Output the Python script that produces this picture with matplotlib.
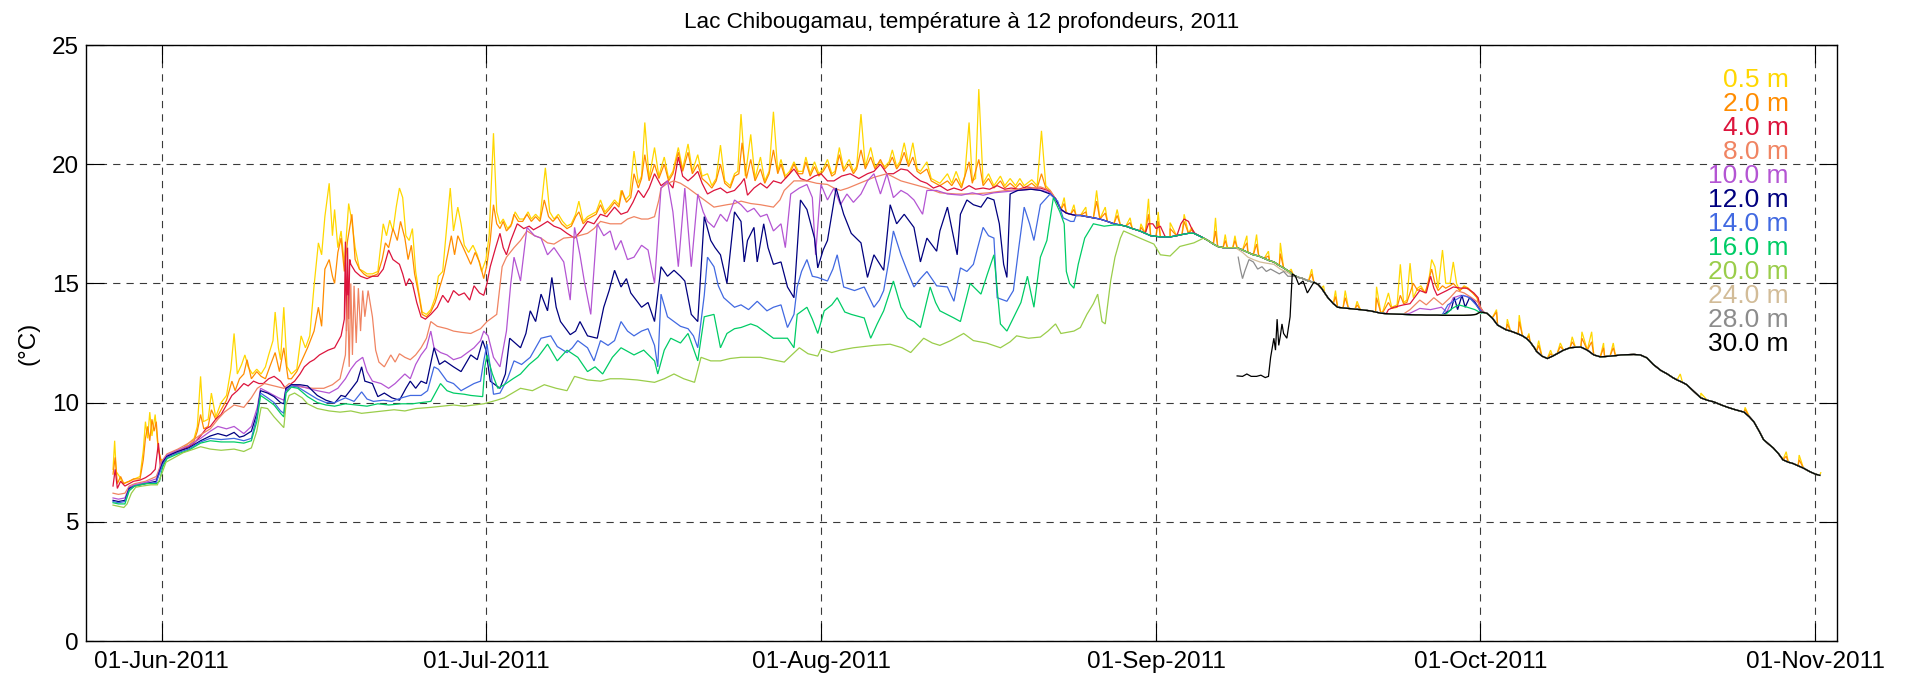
import numpy as np
import matplotlib
matplotlib.use("Agg")
import matplotlib.pyplot as plt
import matplotlib.dates as mdates
from datetime import datetime

plt.rcParams['font.family'] = ['Liberation Sans', 'DejaVu Sans']

# ---------------------------------------------------------------------------
# Mooring records, Lac Chibougamau 2011.
# Each record is a list of (day since 1 June 2011, temperature degC).
# ---------------------------------------------------------------------------
depth_labels = ["0.5 m", "2.0 m", "4.0 m", "8.0 m", "10.0 m", "12.0 m",
                "14.0 m", "16.0 m", "20.0 m", "24.0 m", "28.0 m", "30.0 m"]
depth_colors = ["#FFD700", "#FF8C00", "#DC143C", "#F08462", "#B455D3", "#00007F",
                "#4169E1", "#00CC66", "#9ACD4A", "#D2BC98", "#8C8C8C", "#000000"]

# whole-column record once the lake is mixed (autumn overturn)
mixed = [(82.2,18.85),(82.7,18.55),(83.2,18.1),(83.7,17.95),(84.1,17.9),(84.6,17.85),(85.0,17.85),
         (85.6,17.8),(86.2,17.75),(86.8,17.7),(87.5,17.6),(88.1,17.5),(88.7,17.45),(89.2,17.4),
         (89.8,17.3),(90.5,17.2),(91.0,17.1),(91.5,17.0),(92.0,16.97),(92.4,16.95),(92.9,16.95),
         (93.3,16.95),(93.9,17.0),(94.4,17.05),(95.0,17.1),(95.5,17.1),(96.2,16.95),(96.8,16.8),
         (97.3,16.65),(97.7,16.55),(98.2,16.5),(98.6,16.5),(99.1,16.5),(99.5,16.5),(100.0,16.4),
         (100.5,16.3),(101.0,16.2),(101.5,16.15),(102.0,16.05),(102.5,15.95),(102.9,15.9),
         (103.4,15.75),(103.8,15.65),(104.3,15.5),(104.7,15.35),(105.2,15.25),(105.6,15.2),
         (106.1,15.1),(106.6,15.05),(107.0,14.95),(107.3,14.8),(107.6,14.6),(107.9,14.4),
         (108.4,14.15),(108.8,14.0),(109.3,13.97),(109.8,13.95),(110.4,13.92),(110.9,13.9),
         (111.4,13.87),(111.8,13.85),(112.3,13.8),(112.8,13.75),(113.3,13.73),(113.7,13.72),
         (114.3,13.71),(114.9,13.7),(115.5,13.69),(116.0,13.68),(116.5,13.68),(117.0,13.67),
         (117.5,13.67),(118.0,13.67),(118.5,13.66),(119.0,13.66),(119.5,13.66),(120.0,13.66),
         (120.5,13.66),(121.1,13.67),(121.6,13.7),(122.0,13.8),(122.3,13.78),(122.6,13.75),
         (123.1,13.55),(123.6,13.25),(124.0,13.15),(124.4,13.05),(124.8,13.0),(125.1,12.95),
         (125.5,12.88),(125.9,12.8),(126.3,12.68),(126.6,12.55),(127.0,12.3),(127.2,12.15),
         (127.7,11.95),(128.2,11.85),(128.7,11.95),(129.1,12.05),(129.7,12.2),(130.3,12.3),
         (130.8,12.32),(131.3,12.33),(131.9,12.2),(132.5,12.0),(133.1,11.92),(133.5,11.93),
         (134.0,11.95),(134.5,11.97),(135.0,12.0),(135.6,12.01),(136.2,12.02),(136.8,12.0),
         (137.4,11.88),(138.0,11.6),(138.7,11.35),(139.3,11.2),(139.8,11.05),(140.2,10.95),
         (140.7,10.85),(141.1,10.75),(141.8,10.45),(142.4,10.2),(143.0,10.1),(143.6,10.03),
         (144.3,9.9),(144.9,9.8),(145.6,9.7),(146.0,9.65),(146.4,9.6),(146.9,9.4),(147.3,9.2),
         (147.8,8.8),(148.2,8.45),(148.7,8.25),(149.1,8.1),(149.6,7.85),(150.0,7.6),(150.5,7.5),
         (150.9,7.45),(151.4,7.35),(151.9,7.25),(152.5,7.1),(153.0,7.0),(153.4,6.95)]

# 0.5 m
t05_strat = [(-4.5,7.2),(-4.35,8.4),(-4.2,7.1),(-3.9,6.9),(-3.6,6.6),(-3.0,6.7),(-2.5,6.8),(-2.0,6.9),
    (-1.7,8.0),(-1.5,9.2),(-1.3,8.5),(-1.1,9.6),(-0.9,8.6),(-0.6,9.5),(-0.4,8.4),(-0.1,7.6),(0.3,7.6),
    (1.0,7.9),(2.0,8.1),(3.0,8.5),(3.3,9.0),(3.6,11.1),(3.85,9.2),(4.3,9.3),(4.6,10.4),(5.0,9.4),
    (5.5,10.0),(6.0,10.3),(6.4,11.4),(6.7,12.9),(7.0,11.2),(7.4,11.6),(7.7,12.0),(8.0,11.5),(8.4,11.2),
    (8.8,11.4),(9.2,11.2),(9.6,11.5),(9.9,12.0),(10.3,12.6),(10.5,13.8),(10.8,12.3),(11.0,11.8),
    (11.3,14.0),(11.6,11.5),(12.0,11.2),(12.5,11.4),(12.9,12.8),(13.3,12.3),(13.7,12.8),(14.1,14.9),
    (14.5,16.7),(14.8,16.2),(15.1,17.8),(15.5,19.2),(15.8,17.0),(16.0,18.1),(16.3,16.5),(16.6,17.2),
    (16.9,15.8),(17.3,18.35),(17.6,17.6),(17.9,16.5),(18.3,15.6),(18.7,15.5),(19.0,15.4),(19.5,15.4),
    (20.0,15.5),(20.5,17.5),(20.8,17.0),(21.1,17.65),(21.4,17.2),(21.7,18.2),(22.0,19.0),(22.3,18.6),
    (22.6,17.0),(22.9,16.8),(23.2,17.3),(23.5,15.5),(23.8,14.6),(24.1,13.8),(24.5,13.7),(24.9,13.9),
    (25.3,14.4),(25.6,15.3),(26.0,15.5),(26.3,17.0),(26.7,19.0),(27.0,17.2),(27.4,18.2),(27.7,17.5),
    (28.0,16.6),(28.4,16.3),(28.8,16.6),(29.2,16.2),(29.6,15.5),(30.0,16.0),(30.3,17.0),(30.7,21.3),
    (31.0,18.0),(31.3,17.5),(31.6,17.7),(32.0,17.3),(32.4,17.5),(32.7,18.0),(33.1,17.7),(33.5,17.7),
    (33.9,18.0),(34.2,17.7),(34.6,17.9),(35.0,17.7),(35.5,19.85),(35.9,18.0),(36.3,17.7),(36.7,17.9),
    (37.1,17.6),(37.5,17.4),(37.9,17.5),(38.3,17.9),(38.6,18.45),(39.0,17.6),(39.4,17.8),(39.8,17.9),
    (40.2,18.0),(40.6,18.5),(41.0,18.0),(41.4,18.2),(41.9,18.5),(42.3,18.3),(42.5,18.9),(42.9,18.5),
    (43.3,18.7),(43.7,20.55),(44.1,19.2),(44.4,19.5),(44.7,21.75),(45.1,19.4),(45.6,20.7),(46.0,19.5),
    (46.5,20.3),(46.9,19.4),(47.3,19.7),(47.8,20.7),(48.2,19.8),(48.7,20.85),(49.1,19.7),(49.6,20.4),
    (50.0,19.5),(50.5,19.6),(50.9,19.1),(51.3,19.4),(51.7,20.8),(52.1,19.3),(52.6,19.1),(53.0,19.6),
    (53.3,19.7),(53.6,22.1),(54.0,19.5),(54.5,21.25),(54.9,19.4),(55.4,20.3),(55.8,19.3),(56.2,19.7),
    (56.6,22.2),(57.0,19.7),(57.3,20.2),(57.7,19.5),(58.1,19.7),(58.5,20.1),(58.9,19.7),(59.3,19.7),
    (59.6,20.3),(60.0,19.6),(60.4,20.1),(60.8,19.6),(61.2,19.8),(61.6,20.2),(62.0,19.6),(62.3,19.7),
    (62.7,20.7),(63.1,19.8),(63.6,20.2),(64.0,19.7),(64.3,19.9),(64.7,22.1),(65.1,19.9),(65.6,20.7),
    (66.0,19.9),(66.5,20.1),(66.9,19.9),(67.3,20.1),(67.6,20.6),(68.0,19.9),(68.3,20.1),(68.7,20.9),
    (69.1,20.0),(69.5,20.9),(69.9,19.8),(70.2,19.7),(70.8,20.1),(71.2,19.4),(71.6,19.3),(72.0,19.2),
    (72.7,19.6),(73.1,19.2),(73.5,19.7),(74.0,19.1),(74.3,19.5),(74.7,21.75),(75.0,19.3),(75.3,19.4),
    (75.6,23.15),(76.0,19.2),(76.5,19.6),(77.0,19.1),(77.6,19.5),(78.0,19.1),(78.5,19.4),(79.0,19.1),
    (79.4,19.4),(79.8,19.1),(80.5,19.35),(81.0,19.1),(81.4,21.4),(81.8,19.1),(82.2,18.9)]
t05_sep = [(113.0,13.85),(113.5,14.6),(113.8,14.0),(114.3,14.1),(114.6,15.8),(114.9,14.2),(115.2,14.3),
    (115.5,15.85),(115.8,14.4),(116.2,14.8),(116.5,14.9),(116.9,14.6),(117.2,15.0),(117.5,16.0),
    (117.8,15.7),(118.1,14.8),(118.5,16.4),(118.8,15.0),(119.2,15.0),(119.5,15.9),(119.8,15.0),
    (120.1,14.7),(120.5,14.9),(120.9,14.8),(121.3,14.6),(121.7,14.4),(122.0,13.9)]
t05_peaks = [(83.5,18.6),(84.4,18.3),(85.5,18.2),(86.5,18.9),(87.3,18.2),(88.4,18.1),(89.6,17.75),
    (90.6,17.5),(91.3,18.55),(92.2,18.0),(93.3,17.55),(94.6,17.9),(95.3,17.35),(97.5,17.75),(98.4,17.05),
    (99.3,17.0),(100.4,17.0),(101.3,17.05),(102.4,16.35),(103.5,16.7),(104.5,15.6),(106.4,15.6),
    (107.5,14.9),(108.6,14.7),(109.5,14.7),(110.6,14.25),(112.4,14.86),(123.5,13.9),(124.5,13.5),
    (125.6,13.67),(126.5,12.9),(127.4,12.6),(128.5,12.2),(129.4,12.5),(130.5,12.76),(131.4,12.97),
    (132.3,12.97),(133.4,12.5),(134.3,12.5),(140.5,11.2),(142.4,10.4),(146.5,9.8),(150.3,7.94),
    (151.5,7.8),(153.5,7.06)]

# 2.0 m
t2_strat = [(-4.5,7.0),(-4.3,7.7),(-4.1,6.6),(-3.8,6.9),(-3.5,6.6),(-3.0,6.7),(-2.6,6.8),(-2.0,6.8),
    (-1.7,7.6),(-1.5,8.5),(-1.3,9.0),(-1.1,8.4),(-0.9,9.3),(-0.7,8.8),(-0.5,9.2),(-0.3,8.0),(0.0,7.5),
    (0.3,7.6),(0.6,7.7),(1.0,7.9),(1.5,7.95),(2.0,8.1),(2.5,8.2),(3.0,8.4),(3.3,8.8),(3.6,9.5),(3.9,8.9),
    (4.3,9.0),(4.6,9.7),(5.0,9.3),(5.5,9.7),(6.0,10.1),(6.5,10.9),(6.8,10.5),(7.2,11.0),(7.6,11.2),
    (7.9,11.8),(8.3,11.0),(8.8,11.3),(9.2,11.1),(9.6,11.0),(10.0,11.5),(10.5,12.1),(10.9,11.3),(11.3,12.3),
    (11.7,11.0),(12.0,11.0),(12.5,11.3),(13.0,11.8),(13.5,12.3),(14.1,13.0),(14.5,14.0),(14.8,13.2),
    (15.1,15.6),(15.5,16.0),(15.8,15.3),(16.0,15.0),(16.3,16.3),(16.6,16.9),(16.9,15.5),(17.2,16.8),
    (17.6,17.9),(17.9,16.0),(18.3,15.6),(18.7,15.4),(19.0,15.3),(19.5,15.3),(20.0,15.4),(20.4,16.0),
    (20.7,16.7),(21.0,16.5),(21.4,17.3),(21.8,16.8),(22.1,17.6),(22.5,16.9),(22.8,16.0),(23.1,16.6),
    (23.4,15.4),(23.8,14.5),(24.1,13.7),(24.5,13.6),(24.9,13.8),(25.3,14.2),(25.7,14.8),(26.1,15.4),
    (26.5,16.3),(26.8,17.0),(27.1,16.2),(27.4,17.0),(27.8,16.6),(28.2,16.2),(28.6,15.8),(29.0,16.3),
    (29.4,15.9),(29.8,15.2),(30.1,15.8),(30.4,16.8),(30.7,18.3),(31.0,17.5),(31.3,17.3),(31.6,17.6),
    (31.9,17.2),(32.3,17.4),(32.6,17.9),(33.0,17.6),(33.4,17.6),(33.8,17.9),(34.2,17.6),(34.6,17.8),
    (35.0,17.6),(35.4,18.5),(35.8,17.8),(36.2,17.6),(36.6,17.8),(37.0,17.5),(37.5,17.3),(37.9,17.4),
    (38.3,17.8),(38.6,18.0),(39.0,17.5),(39.4,17.7),(39.8,17.8),(40.2,17.9),(40.6,18.3),(41.0,17.9),
    (41.4,18.1),(41.9,18.4),(42.3,18.2),(42.6,18.9),(43.0,18.4),(43.4,18.6),(43.7,19.6),(44.1,19.0),
    (44.4,19.4),(44.7,20.4),(45.1,19.3),(45.6,20.0),(46.0,19.4),(46.5,20.0),(46.9,19.3),(47.3,19.6),
    (47.8,20.5),(48.2,19.7),(48.7,20.5),(49.1,19.6),(49.6,20.0),(50.0,19.4),(50.5,19.2),(50.9,19.0),
    (51.3,19.3),(51.7,20.0),(52.1,19.2),(52.6,19.0),(53.0,19.5),(53.4,19.6),(53.7,20.9),(54.1,19.4),
    (54.5,20.2),(54.9,19.3),(55.4,19.8),(55.8,19.2),(56.2,19.6),(56.6,20.6),(57.0,19.6),(57.3,20.0),
    (57.7,19.4),(58.1,19.6),(58.5,20.0),(58.9,19.6),(59.3,19.6),(59.6,20.1),(60.0,19.5),(60.4,19.9),
    (60.8,19.5),(61.2,19.7),(61.6,20.0),(62.0,19.5),(62.3,19.6),(62.7,20.4),(63.1,19.7),(63.6,20.0),
    (64.0,19.6),(64.3,19.8),(64.7,20.6),(65.1,19.8),(65.6,20.3),(66.0,19.8),(66.5,20.2),(66.9,19.8),
    (67.3,20.0),(67.6,20.3),(68.0,19.8),(68.3,20.0),(68.7,20.5),(69.1,19.9),(69.5,20.3),(69.9,19.7),
    (70.2,19.6),(70.8,19.8),(71.2,19.3),(71.6,19.2),(72.0,19.1),(72.7,19.3),(73.1,19.1),(73.5,19.4),
    (74.0,19.0),(74.7,20.1),(75.0,19.2),(75.6,20.2),(76.0,19.1),(76.5,19.4),(77.0,19.0),(77.6,19.3),
    (78.0,19.0),(78.5,19.2),(79.0,19.0),(79.4,19.2),(79.8,19.0),(80.5,19.2),(81.0,19.0),(81.4,19.6),
    (81.8,19.0),(82.2,18.85)]
t2_sep = [(113.0,13.8),(113.5,14.2),(113.8,13.95),(114.3,14.0),(114.6,14.5),(114.9,14.15),(115.2,14.2),
    (115.8,15.0),(116.2,14.7),(116.5,14.8),(116.9,14.6),(117.5,15.6),(117.8,15.0),(118.1,14.7),
    (118.5,14.9),(118.8,14.8),(119.2,14.9),(119.5,15.0),(119.8,14.85),(120.1,14.7),(120.5,14.85),
    (120.9,14.75),(121.3,14.6),(121.7,14.4),(122.0,13.9)]
t2_peaks = [(83.5,18.35),(84.4,18.1),(85.5,18.0),(86.5,18.45),(87.3,17.95),(88.4,17.85),(89.6,17.55),
    (90.6,17.35),(91.3,17.9),(92.2,17.6),(93.3,17.3),(94.6,17.6),(95.3,17.25),(97.5,17.2),(98.4,16.8),
    (99.3,16.8),(100.4,16.7),(101.3,16.65),(102.4,16.15),(103.5,16.25),(104.5,15.5),(106.4,15.4),
    (107.5,14.7),(108.6,14.45),(109.5,14.4),(110.6,14.1),(112.4,14.4),(123.5,13.8),(124.5,13.3),
    (125.6,13.4),(126.5,12.8),(127.4,12.4),(128.5,12.05),(129.4,12.35),(130.5,12.55),(131.4,12.7),
    (132.3,12.55),(133.4,12.3),(134.3,12.3),(146.5,9.7),(150.3,7.75),(151.5,7.6)]

# 4.0 m
t4_strat = [(-4.5,6.5),(-4.3,7.2),(-4.1,6.4),(-3.8,6.7),(-3.4,6.5),(-3.0,6.6),(-2.6,6.7),(-2.0,6.75),
    (-1.5,6.85),(-1.0,7.0),(-0.6,7.2),(-0.3,8.3),(-0.1,7.2),(0.3,7.6),(0.5,7.7),(1.0,7.85),(1.5,7.9),
    (2.0,8.05),(2.5,8.15),(3.0,8.3),(3.6,8.6),(4.1,8.9),(4.5,9.0),(5.0,9.3),(5.5,9.5),(6.0,9.9),(6.5,10.3),
    (7.0,10.5),(7.6,10.8),(8.0,10.7),(8.5,10.9),(9.0,10.8),(9.4,10.8),(9.9,11.0),(10.4,11.1),(11.0,10.9),
    (11.6,10.5),(12.0,10.8),(12.3,10.9),(12.8,11.2),(13.2,11.5),(13.7,11.7),(14.1,11.8),(14.6,12.0),
    (15.0,12.1),(15.4,12.2),(16.0,12.3),(16.6,12.8),(16.9,13.5),(17.0,16.75),(17.1,13.0),(17.2,16.5),
    (17.3,13.5),(17.4,16.0),(17.5,15.8),(17.9,15.5),(18.4,15.3),(19.0,15.2),(19.5,15.3),(20.0,15.3),
    (20.5,15.6),(21.0,16.4),(21.4,16.0),(21.7,15.9),(22.0,15.8),(22.3,15.4),(22.6,14.9),(22.9,15.2),
    (23.2,15.0),(23.6,14.2),(24.0,13.6),(24.4,13.5),(24.9,13.7),(25.5,14.0),(26.0,14.5),(26.5,14.2),
    (27.0,14.7),(27.5,14.5),(28.0,14.6),(28.5,14.3),(28.9,14.9),(29.4,14.6),(29.8,14.5),(30.1,15.0),
    (30.4,15.7),(30.9,16.5),(31.3,17.1),(31.6,16.5),(31.9,16.2),(32.3,16.8),(32.9,17.5),(33.5,17.3),
    (34.0,17.4),(34.4,17.25),(35.0,17.4),(35.7,17.6),(36.3,17.4),(36.9,17.3),(37.5,17.1),(38.2,16.9),
    (38.8,17.2),(39.4,17.6),(40.0,17.5),(40.6,17.9),(41.2,17.8),(41.9,18.2),(42.5,17.9),(43.1,18.0),
    (43.6,18.4),(44.1,18.9),(44.6,18.6),(45.1,19.0),(45.6,19.6),(46.2,19.1),(46.8,19.3),(47.3,19.0),
    (47.8,20.3),(48.2,19.5),(48.7,19.3),(49.2,19.5),(49.6,19.7),(50.0,19.2),(50.5,18.75),(51.1,18.9),
    (51.7,19.0),(52.3,18.8),(53.0,18.9),(53.6,19.2),(53.9,19.4),(54.2,18.7),(54.8,19.0),(55.4,19.2),
    (56.0,19.0),(56.6,19.3),(57.3,19.2),(57.9,19.5),(58.5,19.8),(59.1,19.4),(59.7,19.3),(60.4,19.5),
    (61.0,19.6),(61.6,19.3),(62.2,19.3),(62.9,19.5),(63.7,19.6),(64.5,19.4),(65.3,19.6),(65.9,19.7),
    (66.5,20.0),(67.1,19.6),(67.7,19.6),(68.4,19.8),(69.0,19.75),(69.6,19.5),(70.2,19.3),(70.8,19.2),
    (71.4,19.0),(72.0,19.1),(72.7,18.9),(73.3,19.0),(74.0,18.9),(74.7,19.1),(75.3,18.95),(76.0,19.0),
    (76.6,18.95),(77.3,19.1),(78.0,18.95),(78.6,19.0),(79.3,18.95),(80.0,19.05),(80.7,19.0),(81.3,19.0),
    (82.0,18.9),(82.6,18.6)]
t4_aug_a = [(91.0,17.1),(91.3,17.5),(91.7,17.5),(92.0,17.3),(92.4,17.4),(92.8,17.0)]
t4_aug_b = [(94.0,17.1),(94.3,17.5),(94.6,17.7),(95.0,17.6),(95.3,17.3),(95.6,17.1)]
t4_sep = [(113.5,13.9),(114.0,14.0),(114.9,14.1),(115.5,14.15),(116.4,14.7),(117.0,14.6),(117.4,15.3),
    (117.7,14.8),(118.0,14.5),(118.9,14.7),(119.5,14.85),(120.2,14.8),(120.8,14.8),(121.4,14.6),
    (121.8,14.4),(122.0,14.0),(122.3,13.8)]

# 8.0 m
t8_strat = [(-4.5,6.2),(-4.0,6.15),(-3.4,6.2),(-3.0,6.5),(-2.5,6.6),(-1.5,6.7),(-0.5,6.9),(0.1,7.6),
    (0.5,7.85),(1.5,8.05),(2.5,8.3),(3.6,8.65),(4.5,8.9),(5.2,9.3),(5.8,9.6),(6.7,9.9),(7.6,9.8),(8.3,10.2),
    (8.85,10.6),(9.5,10.8),(10.4,10.7),(11.3,10.6),(11.8,10.8),(12.3,10.7),(13.0,10.65),(14.0,10.6),
    (15.0,10.6),(15.8,10.75),(16.5,11.0),(17.0,12.0),(17.2,14.5),(17.35,11.5),(17.5,15.0),(17.65,12.0),
    (17.8,14.9),(18.0,12.5),(18.2,14.8),(18.4,13.0),(18.6,14.7),(18.8,13.6),(19.1,14.7),(19.5,13.6),
    (19.8,12.2),(20.1,11.7),(20.6,11.5),(21.2,12.0),(21.6,11.7),(22.0,12.05),(22.5,11.9),(23.0,11.8),
    (23.5,12.0),(24.0,12.3),(24.5,12.7),(24.9,13.4),(25.5,13.2),(26.4,13.1),(27.0,13.0),(27.7,12.95),
    (28.6,12.9),(29.5,13.1),(30.1,13.4),(31.0,13.7),(31.5,15.7),(31.9,16.1),(32.6,16.5),(33.2,16.8),
    (33.8,17.2),(34.5,17.0),(35.1,16.9),(35.7,16.7),(36.3,16.65),(37.2,16.9),(38.2,16.95),(39.4,17.1),
    (40.0,17.3),(40.6,17.6),(41.5,17.5),(42.5,17.5),(43.1,17.7),(43.7,17.8),(44.4,17.7),(45.0,17.7),
    (45.6,17.8),(46.0,18.5),(46.2,19.0),(46.8,19.2),(47.4,19.3),(48.0,19.2),(48.7,19.0),(49.3,18.8),
    (49.9,18.6),(50.5,18.4),(51.1,18.2),(51.7,18.25),(52.3,18.3),(53.0,18.35),(53.6,18.45),(54.5,18.35),
    (55.4,18.3),(56.0,18.25),(56.6,18.2),(57.2,18.5),(57.6,18.9),(58.5,19.3),(59.7,19.3),(60.6,19.2),
    (61.6,19.15),(62.2,19.0),(62.8,18.9),(63.5,19.0),(64.3,19.15),(65.1,19.3),(65.9,19.45),(67.1,19.6),
    (68.4,19.3),(69.6,19.15),(70.8,19.0),(72.0,18.8),(73.5,18.75),(75.1,18.75),(76.5,18.8),(78.2,18.9),
    (79.5,18.95),(81.3,19.05),(82.2,18.9)]
t8_sep = [(115.0,13.75),(115.5,13.9),(116.4,14.3),(117.0,14.1),(117.7,14.4),(118.5,14.1),(119.2,14.4),
    (119.8,14.7),(120.5,14.6),(121.2,14.4),(121.8,14.2),(122.2,13.85)]

# 10.0 m
t10_strat = [(-4.5,6.0),(-4.0,5.95),(-3.4,6.0),(-3.0,6.45),(-2.5,6.55),(-1.5,6.65),(-0.5,6.8),(0.1,7.55),
    (0.5,7.8),(1.5,8.0),(2.5,8.2),(3.6,8.5),(4.5,8.8),(5.2,9.0),(6.0,8.9),(6.7,9.0),(7.6,8.7),(8.3,9.0),
    (8.85,9.8),(9.15,10.6),(10.0,10.4),(10.8,10.2),(11.3,10.1),(11.5,10.6),(12.0,10.75),(12.8,10.7),
    (13.5,10.6),(14.4,10.5),(15.5,10.4),(16.3,10.6),(17.0,11.0),(17.5,11.4),(18.0,11.7),(18.6,11.9),
    (19.0,11.3),(19.5,10.9),(20.3,10.8),(21.0,10.6),(21.6,10.8),(22.5,11.2),(23.0,11.0),(23.5,11.6),
    (24.0,12.0),(24.5,12.3),(24.9,13.0),(25.2,12.3),(25.8,12.1),(26.4,12.0),(27.0,11.8),(27.7,11.9),
    (28.3,12.1),(28.9,12.3),(29.5,12.6),(29.8,13.0),(30.2,12.8),(30.7,11.9),(31.3,11.5),(31.9,13.0),
    (32.3,15.0),(32.6,16.1),(33.2,15.1),(33.8,17.35),(34.5,17.0),(35.1,16.9),(35.7,16.2),(36.3,16.5),
    (37.2,15.9),(37.8,14.3),(38.2,17.35),(38.7,16.2),(39.1,15.1),(39.7,13.7),(40.3,17.5),(40.9,17.0),
    (41.5,17.2),(42.0,16.4),(42.5,16.8),(43.1,16.0),(43.7,16.1),(44.4,16.6),(45.0,16.4),(45.6,15.0),
    (46.2,19.0),(46.8,19.3),(47.3,18.0),(47.8,15.7),(48.4,19.0),(49.0,15.7),(49.6,18.75),(50.1,18.0),
    (50.5,17.6),(51.1,17.35),(51.7,17.9),(52.3,17.6),(53.0,18.5),(53.6,18.3),(54.2,18.0),(54.8,18.15),
    (55.4,17.8),(56.0,17.9),(56.6,17.2),(57.3,17.5),(57.7,16.5),(58.2,18.75),(59.0,19.0),(59.7,19.15),
    (60.2,18.6),(60.5,16.2),(61.0,19.15),(61.6,18.5),(62.2,19.0),(62.8,18.3),(63.4,18.75),(64.0,18.4),
    (64.7,18.75),(65.3,19.3),(65.9,19.6),(66.5,18.75),(67.1,19.6),(67.7,18.6),(68.4,18.9),(69.0,18.75),
    (69.6,18.5),(70.4,17.9),(70.8,18.9),(71.7,18.9),(72.7,18.75),(74.0,18.7),(75.0,18.8),(76.0,18.7),
    (77.0,18.8),(78.2,18.85),(79.5,18.9),(80.5,18.95),(81.5,18.9),(82.2,18.8)]
t10_sep = [(115.0,13.7),(115.5,13.75),(116.4,13.95),(117.4,13.9),(118.4,14.0),(118.9,13.8),(119.5,14.4),
    (120.2,14.5),(120.8,14.45),(121.4,14.3),(122.0,13.9)]

# 12.0 m
t12_strat = [(-4.5,5.9),(-4.0,5.85),(-3.4,5.9),(-3.0,6.4),(-2.5,6.5),(-1.5,6.6),(-0.5,6.7),(0.1,7.5),
    (0.5,7.75),(1.5,7.95),(2.5,8.1),(3.6,8.4),(4.5,8.6),(5.2,8.7),(6.0,8.6),(6.7,8.75),(7.2,8.55),(7.6,8.6),
    (8.3,8.8),(8.85,9.6),(9.15,10.5),(9.8,10.4),(10.4,10.25),(11.0,10.0),(11.3,9.95),(11.5,10.6),(12.0,10.75),
    (12.8,10.75),(13.5,10.7),(14.4,10.3),(15.2,10.1),(16.0,9.98),(16.6,10.3),(17.0,10.25),(17.6,10.6),
    (18.1,10.9),(18.5,11.5),(18.8,10.9),(19.5,10.8),(20.0,10.25),(20.6,10.4),(21.3,10.2),(22.0,10.1),
    (22.6,10.6),(23.0,10.9),(23.5,10.6),(24.0,10.9),(24.5,10.8),(25.2,12.3),(25.7,11.6),(26.2,11.75),
    (27.0,11.5),(27.7,11.3),(28.6,12.0),(29.2,11.8),(29.7,12.6),(30.0,12.2),(30.4,10.9),(31.3,10.6),
    (31.8,11.2),(32.2,12.7),(33.2,12.3),(33.7,12.9),(34.1,13.85),(34.6,13.4),(35.1,14.55),(35.7,13.85),
    (36.1,15.25),(36.5,14.0),(36.9,13.4),(37.8,12.85),(38.3,13.0),(38.7,13.4),(39.4,12.8),(40.3,12.7),
    (40.9,14.0),(41.4,14.7),(41.9,15.55),(42.5,14.85),(43.0,15.2),(43.4,14.6),(44.4,14.0),(45.0,14.2),
    (45.6,13.4),(46.2,15.7),(46.8,15.3),(47.4,15.55),(48.0,15.3),(48.4,15.1),(49.0,13.7),(49.6,13.4),
    (50.2,17.8),(50.8,16.8),(51.2,16.5),(51.7,16.2),(52.3,15.0),(53.0,18.0),(53.6,17.6),(53.9,15.9),
    (54.2,16.8),(54.8,17.35),(55.1,15.9),(55.7,17.5),(56.1,16.5),(56.6,15.8),(57.3,15.9),(57.9,14.85),
    (58.5,14.4),(59.1,18.5),(59.7,18.1),(60.4,16.9),(60.7,15.65),(61.2,16.4),(61.6,16.8),(62.4,19.0),
    (63.1,17.9),(63.8,17.1),(64.7,16.7),(65.3,15.25),(65.9,16.2),(66.8,15.55),(67.4,18.3),(68.0,17.5),
    (68.7,17.9),(69.6,17.35),(70.2,15.9),(70.8,16.9),(71.7,16.35),(72.0,17.2),(72.7,18.2),(73.6,16.2),
    (73.9,17.9),(74.5,18.5),(75.1,18.3),(75.8,18.2),(76.4,18.6),(77.0,18.5),(77.5,17.5),(77.9,15.8),
    (78.2,15.25),(78.5,18.75),(79.2,18.9),(80.4,18.95),(81.3,18.9),(82.2,18.75)]
t12_sep = [(118.2,13.67),(118.6,13.7),(119.3,13.9),(119.6,14.4),(119.9,13.9),(120.3,14.5),(120.6,14.0),
    (121.0,14.4),(121.5,14.2),(122.0,13.85)]

# 14.0 m
t14_strat = [(-4.5,5.85),(-4.0,5.8),(-3.4,5.85),(-3.0,6.35),(-2.5,6.5),(-1.5,6.6),(-0.5,6.65),(0.1,7.4),
    (0.5,7.7),(1.5,7.9),(2.5,8.05),(3.6,8.35),(4.5,8.5),(5.5,8.45),(6.7,8.5),(7.6,8.4),(8.3,8.5),(8.8,9.4),
    (9.15,10.4),(9.8,10.2),(10.4,10.0),(11.0,9.65),(11.3,9.55),(11.5,10.5),(12.0,10.7),(12.6,10.65),
    (13.5,10.4),(14.4,10.15),(15.2,10.0),(16.0,10.0),(17.0,10.2),(17.8,10.05),(18.5,10.45),(19.0,10.15),
    (19.6,10.05),(20.5,10.1),(21.3,10.05),(22.2,10.2),(23.0,10.3),(24.0,10.3),(24.6,10.5),(25.2,11.5),
    (25.6,11.4),(26.4,10.9),(27.0,10.8),(27.7,10.5),(28.9,10.8),(29.5,10.9),(29.8,11.75),(30.1,12.45),
    (30.4,11.5),(30.7,10.35),(31.3,10.4),(32.0,11.0),(32.6,11.75),(33.3,11.6),(34.1,11.9),(35.1,12.7),
    (36.0,12.8),(36.6,12.35),(37.5,12.1),(38.0,12.3),(38.5,12.6),(39.4,12.3),(40.0,11.75),(40.6,12.6),
    (41.3,12.4),(41.9,12.6),(42.5,13.4),(43.1,13.0),(43.7,12.8),(44.4,13.0),(45.0,13.1),(45.6,12.4),
    (45.9,11.5),(46.2,14.55),(46.8,13.6),(47.4,13.4),(48.0,13.2),(48.7,13.1),(49.2,12.8),(49.6,12.3),
    (50.2,14.5),(50.5,16.1),(51.1,15.7),(51.5,14.9),(52.0,14.4),(52.5,14.2),(53.0,14.0),(53.6,14.1),
    (54.3,13.9),(55.1,14.25),(56.0,13.85),(56.6,14.0),(57.3,14.1),(57.9,13.15),(58.5,13.7),(58.8,14.85),
    (59.2,15.5),(59.7,16.0),(60.2,15.3),(60.7,15.25),(61.6,15.1),(62.1,15.6),(62.5,16.2),(63.1,14.85),
    (64.1,14.7),(65.0,14.85),(65.9,14.0),(66.4,14.3),(66.8,14.7),(67.3,16.0),(67.7,17.2),(68.4,16.2),
    (69.0,15.5),(69.6,14.85),(70.2,15.2),(70.8,15.5),(71.7,14.9),(72.7,14.85),(73.3,14.25),(73.9,15.65),
    (74.5,15.5),(75.1,15.8),(75.5,16.5),(76.0,17.35),(76.5,17.0),(77.0,16.9),(77.3,14.4),(78.2,14.25),
    (78.8,14.7),(79.3,16.5),(79.8,18.2),(80.3,17.5),(80.7,16.8),(81.3,18.3),(82.2,18.75),(82.9,18.45),
    (83.4,17.75),(84.1,17.6),(84.4,17.6)]
t14_sep = [(118.2,13.67),(118.5,13.7),(119.0,14.1),(119.7,14.3),(120.4,14.5),(121.0,14.4),(121.6,14.1),
    (122.1,13.8)]

# 16.0 m
t16_strat = [(-4.5,5.8),(-4.0,5.75),(-3.4,5.75),(-3.0,6.3),(-2.5,6.5),(-1.5,6.6),(-0.5,6.6),(-0.2,6.7),
    (0.1,7.3),(0.5,7.65),(1.5,7.85),(2.5,8.0),(3.6,8.3),(4.5,8.4),(5.5,8.35),(6.7,8.35),(7.6,8.3),(8.3,8.4),
    (8.8,9.2),(9.15,10.3),(9.8,10.1),(10.4,9.9),(11.0,9.55),(11.3,9.4),(11.5,10.4),(12.0,10.65),(12.6,10.6),
    (13.5,10.25),(14.4,10.0),(15.2,9.9),(16.0,9.85),(17.0,9.95),(18.0,9.9),(19.0,9.85),(20.0,9.95),
    (21.0,9.9),(22.2,9.95),(23.2,9.95),(24.0,10.0),(24.9,10.05),(25.8,10.8),(26.4,10.5),(27.0,10.4),
    (28.0,10.35),(28.6,10.3),(29.7,10.25),(29.9,11.5),(30.1,12.0),(30.6,11.2),(31.1,10.6),(31.7,10.75),
    (32.5,11.0),(33.2,11.2),(34.0,11.6),(34.8,11.9),(35.7,12.45),(36.6,11.75),(37.5,12.2),(38.5,11.9),
    (39.4,11.3),(40.1,11.5),(40.8,11.2),(41.7,11.9),(42.5,12.3),(43.7,12.0),(44.6,12.2),(45.6,11.75),
    (45.9,11.2),(46.5,12.2),(47.1,12.7),(48.0,12.5),(48.7,12.9),(49.6,11.75),(50.2,13.6),(51.1,13.7),
    (51.7,12.3),(52.3,12.9),(53.0,13.1),(53.6,13.15),(54.5,13.3),(55.1,13.2),(56.0,12.9),(56.6,12.7),
    (57.9,12.7),(58.5,12.3),(58.8,13.7),(59.7,14.0),(60.2,13.5),(60.7,12.9),(61.3,13.85),(62.0,14.1),
    (62.5,14.4),(63.2,13.8),(63.8,13.7),(65.0,13.55),(65.6,12.7),(66.2,13.3),(66.8,13.85),(67.7,15.1),
    (68.4,14.0),(69.0,13.55),(69.6,13.4),(70.2,13.15),(71.1,14.85),(71.6,14.2),(72.0,13.85),(73.3,13.55),
    (73.9,13.4),(74.8,15.0),(75.8,14.55),(76.4,15.4),(77.0,16.2),(77.6,13.3),(78.2,13.0),(78.8,13.55),
    (79.5,14.2),(80.1,15.3),(80.7,14.0),(81.3,16.1),(81.9,16.8),(82.5,18.6),(83.1,18.0),(83.5,17.5),
    (83.7,15.5),(84.0,15.0),(84.4,14.8),(84.8,15.8),(85.4,16.9),(86.2,17.5),(87.2,17.4),(88.1,17.45)]
t16_sep = [(118.5,13.67),(118.8,13.7),(119.4,13.95),(120.0,14.1),(120.8,14.0),(121.5,13.9),(122.1,13.75)]

# 20.0 m
t20_strat = [(-4.5,5.7),(-4.0,5.65),(-3.5,5.6),(-3.2,5.75),(-2.8,6.2),(-2.4,6.45),(-1.8,6.5),(-1.0,6.55),
    (-0.4,6.55),(0.0,7.0),(0.4,7.5),(1.0,7.65),(2.0,7.9),(3.0,8.05),(3.6,8.15),(4.5,8.05),(5.5,8.0),
    (6.7,8.05),(7.6,7.95),(8.3,8.1),(8.8,8.8),(9.2,9.8),(9.8,9.75),(10.4,9.4),(11.0,9.1),(11.3,8.95),
    (11.5,9.9),(11.8,10.3),(12.3,10.4),(13.0,10.2),(13.5,9.95),(14.4,9.75),(15.5,9.65),(16.5,9.6),
    (17.5,9.65),(18.5,9.55),(19.5,9.6),(20.5,9.65),(21.5,9.7),(22.5,9.65),(23.5,9.75),(24.9,9.8),
    (26.0,9.85),(27.0,9.9),(28.0,9.85),(29.8,9.95),(31.0,10.1),(31.7,10.2),(33.2,10.6),(34.3,10.5),
    (35.4,10.75),(36.5,10.6),(37.5,10.5),(38.2,11.1),(39.4,10.95),(40.6,10.9),(41.5,11.0),(42.5,11.0),
    (44.0,10.95),(45.6,10.85),(46.5,11.0),(47.4,11.2),(48.3,11.0),(49.3,10.85),(49.9,11.9),(50.8,11.75),
    (51.7,11.75),(52.6,11.85),(53.6,11.9),(55.4,11.9),(56.5,11.8),(57.6,11.7),(59.0,12.3),(59.8,12.05),
    (60.7,11.95),(61.0,12.25),(62.0,12.1),(62.8,12.2),(64.0,12.3),(65.9,12.4),(67.4,12.45),(68.5,12.3),
    (69.3,12.1),(70.5,12.7),(71.3,12.5),(72.0,12.4),(73.0,12.6),(74.2,12.9),(75.1,12.6),(76.3,12.5),
    (77.6,12.3),(78.5,12.55),(79.1,12.8),(80.2,12.7),(81.3,12.75),(82.0,13.0),(82.7,13.3),(83.2,12.9),
    (84.4,13.0),(85.0,13.15),(85.6,13.7),(86.2,14.15),(86.6,14.55),(87.0,13.4),(87.3,13.3),(87.8,15.1),
    (88.2,16.1),(88.7,16.9),(89.0,17.2),(89.5,17.1),(90.5,16.9),(91.8,16.65),(92.4,16.2),(93.3,16.15),
    (94.2,16.55),(95.5,16.7),(96.4,16.9)]

# 24, 28 and 30 m loggers, deployed early September
t24_start = [(99.5,16.45),(100.0,16.3),(100.5,16.1),(101.0,16.0),(101.6,15.9),(102.2,15.85),(102.9,15.8),
    (103.5,15.6),(104.2,15.45),(104.7,15.3)]
t28_start = [(99.6,16.1),(99.8,15.6),(100.0,15.2),(100.2,15.5),(100.6,16.0),(101.0,15.9),(101.4,15.6),
    (101.8,15.7),(102.2,15.5),(102.6,15.6),(103.0,15.5),(103.4,15.4),(103.8,15.5),(104.2,15.3),(104.7,15.3)]
t30_start = [(99.5,11.12),(100.0,11.1),(100.4,11.2),(100.8,11.1),(101.3,11.1),(101.7,11.15),(102.1,11.05),
    (102.4,11.1),(102.6,11.9),(102.9,12.7),(103.05,12.2),(103.2,13.5),(103.35,12.4),(103.5,12.8),
    (103.65,13.3),(103.8,12.9),(104.1,12.7),(104.4,13.6),(104.6,15.4),(104.9,15.3),(105.2,14.95),
    (105.6,15.1),(106.0,14.6),(106.6,15.05)]

mix_t = np.array([p[0] for p in mixed])
mix_v = np.array([p[1] for p in mixed])


def build_record(parts, peaks=()):
    """Own segments of one logger, completed by the mixed-column record
    after the first segment ends (outside the other own segments)."""
    ts = [np.array([p[0] for p in seg], float) for seg in parts]
    vs = [np.array([p[1] for p in seg], float) for seg in parts]
    keep = mix_t > ts[0][-1]
    for t in ts[1:]:
        keep &= ~((mix_t >= t[0]) & (mix_t <= t[-1]))
    pk_t = np.array([p[0] for p in peaks], float)
    pk_v = np.array([p[1] for p in peaks], float)
    t_all = np.concatenate(ts + [mix_t[keep], pk_t])
    v_all = np.concatenate(vs + [mix_v[keep], pk_v])
    order = np.argsort(t_all, kind="stable")
    return t_all[order], v_all[order]


records = [
    build_record([t05_strat, t05_sep], t05_peaks),
    build_record([t2_strat, t2_sep], t2_peaks),
    build_record([t4_strat, t4_aug_a, t4_aug_b, t4_sep]),
    build_record([t8_strat, t8_sep]),
    build_record([t10_strat, t10_sep]),
    build_record([t12_strat, t12_sep]),
    build_record([t14_strat, t14_sep]),
    build_record([t16_strat, t16_sep]),
    build_record([t20_strat]),
    build_record([t24_start]),
    build_record([t28_start]),
    build_record([t30_start]),
]

# ---------------------------------------------------------------------------
W, H, DPI = 1910, 681, 100
fig = plt.figure(figsize=(W / DPI, H / DPI), dpi=DPI)
ax_l, ax_r, ax_t, ax_b = 86, 1837, 45, 641
ax = fig.add_axes([ax_l / W, 1 - ax_b / H, (ax_r - ax_l) / W, (ax_b - ax_t) / H])

day0 = mdates.date2num(datetime(2011, 6, 1))
for (t, v), col in zip(records, depth_colors):
    ax.plot(day0 + t, v, color=col, lw=0.9, solid_joinstyle="miter")

ax.set_xlim(day0 - 7, day0 + 155)
ax.set_ylim(0, 25)
ax.set_yticks(range(0, 26, 5))
ax.xaxis.set_major_locator(mdates.MonthLocator(bymonthday=1))
ax.xaxis.set_major_formatter(mdates.DateFormatter("%d-%b-%Y"))

ax.set_axisbelow(True)
ax.grid(True, color="#3a3a3a", linestyle=(0, (6.5, 5.5)), linewidth=0.8)
ax.tick_params(direction="in", length=13, width=0.8, top=True, right=True,
               labelsize=17.5, colors="black")
ax.tick_params(axis="x", pad=7)
ax.tick_params(axis="y", pad=5)
for s in ax.spines.values():
    s.set_linewidth(1.0)
    s.set_color("black")

ax.set_title("Lac Chibougamau, température à 12 profondeurs, 2011", fontsize=16.2, pad=12)
ax.set_ylabel("(°C)", fontsize=17.5)
ax.yaxis.set_label_coords((39 - ax_l) / (ax_r - ax_l), 0.5)

# depth key in the upper right corner
x_key = (1789 - ax_l) / (ax_r - ax_l)
for i, (lab, col) in enumerate(zip(depth_labels, depth_colors)):
    y_px = 80 + 24.0 * i
    ax.text(x_key, (ax_b - y_px) / (ax_b - ax_t), lab, color=col, fontsize=19,
            ha="right", va="center", transform=ax.transAxes)

fig.savefig("out.png", dpi=DPI)
